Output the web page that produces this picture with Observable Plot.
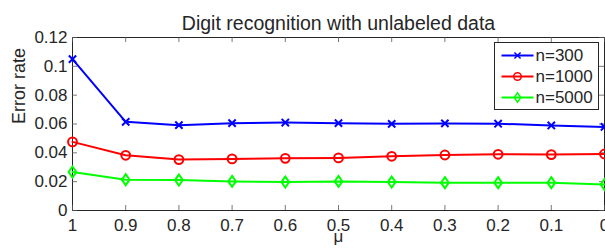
<!DOCTYPE html>
<html>
<head>
<meta charset="utf-8">
<script src="https://cdn.jsdelivr.net/npm/d3@7"></script>
<script src="https://cdn.jsdelivr.net/npm/@observablehq/plot@0.6"></script>
<style>
  body { margin: 0; background: #fff; }
  #chart { position: relative; width: 605px; height: 250px; }
</style>
</head>
<body>
<div id="chart"></div>
<script>
const mu = [1, 0.9, 0.8, 0.7, 0.6, 0.5, 0.4, 0.3, 0.2, 0.1, 0];
const n300 = [0.105, 0.0615, 0.0592, 0.0606, 0.0610, 0.0606, 0.0601, 0.0604, 0.0602, 0.0590, 0.0580];
const n1000 = [0.0476, 0.0383, 0.0353, 0.0358, 0.0362, 0.0365, 0.0376, 0.0385, 0.0390, 0.0388, 0.0392];
const n5000 = [0.0267, 0.0214, 0.0211, 0.0202, 0.0197, 0.0202, 0.0197, 0.0193, 0.0193, 0.0193, 0.0181];
const seriesNames = ["n=300", "n=1000", "n=5000"];
const seriesColors = ["#0000ff", "#ff0000", "#00ff00"];
const xTickLabels = ["1", "0.9", "0.8", "0.7", "0.6", "0.5", "0.4", "0.3", "0.2", "0.1", "0"];
const yTicks = [0, 0.02, 0.04, 0.06, 0.08, 0.1, 0.12];
const yTickLabels = ["0", "0.02", "0.04", "0.06", "0.08", "0.1", "0.12"];
const title = "Digit recognition with unlabeled data";
const xLabel = "μ";
const yLabel = "Error rate";

const W = 605, H = 250, mL = 72, mR = 1, mT = 37, mB = 40;
const frameW = W - mL - mR, frameH = H - mT - mB, tickLen = 5;
const FS = 17;

const diamondSym = {
  draw(ctx, size) {
    const r = Math.sqrt(size / Math.PI);
    const h = r * 1.25, w = r * 0.88;
    ctx.moveTo(0, -h); ctx.lineTo(w, 0); ctx.lineTo(0, h); ctx.lineTo(-w, 0); ctx.closePath();
  }
};
const seriesSymbols = [d3.symbolTimes, d3.symbolCircle, diamondSym];
const seriesR = [3.4, 4.4, 4.4];

const allSeries = [n300, n1000, n5000];
const rows = [];
allSeries.forEach((vals, s) => vals.forEach((v, i) => rows.push({mu: mu[i], err: v, series: seriesNames[s]})));

const marks = [
  Plot.frame({stroke: "#262626", strokeWidth: 1}),
  Plot.tickX(mu, {x: d => d, insetTop: frameH - tickLen, stroke: "#555", strokeWidth: 0.8}),
  Plot.tickX(mu, {x: d => d, insetBottom: frameH - tickLen, stroke: "#555", strokeWidth: 0.8}),
  Plot.tickY(yTicks, {y: d => d, insetRight: frameW - tickLen, stroke: "#555", strokeWidth: 0.8}),
  Plot.tickY(yTicks, {y: d => d, insetLeft: frameW - tickLen, stroke: "#555", strokeWidth: 0.8}),
  Plot.axisX({ticks: mu, tickSize: 0, tickPadding: 8, tickFormat: d => xTickLabels[mu.indexOf(d)], fill: "#262626", fontSize: FS}),
  Plot.axisY({ticks: yTicks, tickSize: 0, tickPadding: 5, tickFormat: d => yTickLabels[yTicks.indexOf(d)], fill: "#262626", fontSize: FS}),
];
seriesNames.forEach((name, s) => {
  const data = rows.filter(r => r.series === name);
  marks.push(Plot.line(data, {x: "mu", y: "err", stroke: seriesColors[s], strokeWidth: 2}));
  marks.push(Plot.dot(data, {x: "mu", y: "err", stroke: seriesColors[s], strokeWidth: 2, symbol: () => seriesSymbols[s], r: seriesR[s], fill: "none"}));
});
marks.push(
  Plot.text([title], {text: d => d, frameAnchor: "top", dy: -21, fontSize: 19.5, fill: "#262626"}),
  Plot.text([xLabel], {text: d => d, frameAnchor: "bottom", dy: 31, fontSize: FS, fill: "#262626"}),
  Plot.text([yLabel], {text: d => d, frameAnchor: "left", dx: -53, rotate: -90, fontSize: 18, fill: "#262626"})
);

const plot = Plot.plot({
  width: W, height: H,
  marginLeft: mL, marginRight: mR, marginTop: mT, marginBottom: mB,
  style: {fontFamily: "'Liberation Sans', Arial, sans-serif", fontSize: FS + "px", color: "#262626", background: "#fff"},
  x: {domain: [1, 0], label: null, axis: null},
  y: {domain: [0, 0.12], label: null, axis: null},
  symbol: {domain: seriesNames, range: seriesSymbols},
  marks
});
document.getElementById("chart").appendChild(plot);

// legend box drawn into the SVG
const svg = d3.select(plot);
const lg = svg.append("g").attr("transform", "translate(494.5,42.5)");
lg.append("rect").attr("width", 104).attr("height", 67).attr("fill", "#fff").attr("stroke", "#262626").attr("stroke-width", 1);
seriesNames.forEach((name, s) => {
  const cy = 13 + s * 21;
  lg.append("line").attr("x1", 7).attr("x2", 39).attr("y1", cy).attr("y2", cy).attr("stroke", seriesColors[s]).attr("stroke-width", 2);
  lg.append("path").attr("transform", `translate(23,${cy})`)
    .attr("d", d3.symbol(seriesSymbols[s], Math.PI * (seriesR[s] * 0.85) ** 2)())
    .attr("fill", "none").attr("stroke", seriesColors[s]).attr("stroke-width", 1.5);
  lg.append("text").attr("x", 41).attr("y", cy).attr("dy", "0.35em")
    .attr("text-anchor", "start").attr("font-size", FS).attr("fill", "#262626").text(name);
});
</script>
</body>
</html>
